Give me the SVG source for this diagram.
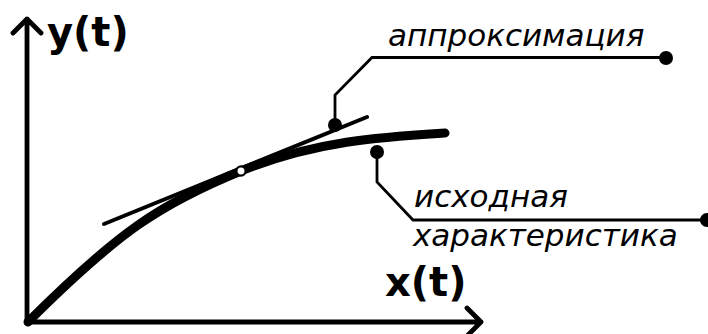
<svg xmlns="http://www.w3.org/2000/svg" width="708" height="334" viewBox="0 0 708 334">
<style>
.ax{fill:none;stroke:#000;stroke-width:4.8;stroke-linecap:round;stroke-linejoin:round}
.lead{fill:none;stroke:#000;stroke-width:2.8;stroke-linejoin:miter}
.dot{fill:#000}
.lbl{font-family:"DejaVu Sans",Verdana,sans-serif;font-style:italic;font-size:31px;fill:#000}
.axl{font-family:"DejaVu Sans",Verdana,sans-serif;font-weight:bold;font-size:40px;fill:#000}
</style>
<rect width="708" height="334" fill="#fff"/>
<g id="axes">
  <path class="ax" d="M27,322 V19 M13,33 L27,19 L41,33"/>
  <path class="ax" d="M27,322 H481 M467,308 L481,322 L467,336"/>
  <text class="axl" x="47" y="46">y(t)</text>
  <text class="axl" x="385" y="296">x(t)</text>
</g>
<g id="curve">
  <path d="M28,322 C118,232 161,203.5 241,171 C316,140.5 385,136.75 445,133" fill="none" stroke="#000" stroke-width="9" stroke-linecap="round"/>
</g>
<g id="tangent">
  <line x1="104" y1="224" x2="367" y2="117" stroke="#000" stroke-width="4" stroke-linecap="round"/>
  <circle cx="241" cy="171" r="4.6" fill="#fff" stroke="#000" stroke-width="2.2"/>
</g>
<g id="connectors">
  <path class="lead" d="M335,125 V95 L372,57.5 H666"/>
  <path class="lead" d="M377,152 V182 L413,220 H707"/>
  <circle class="dot" cx="335" cy="125" r="7"/>
  <circle class="dot" cx="666" cy="58" r="7"/>
  <circle class="dot" cx="377" cy="152" r="7"/>
  <circle class="dot" cx="707" cy="220" r="7"/>
</g>
<g id="label-approx">
  <text class="lbl" x="388" y="46">аппроксимация</text>
</g>
<g id="label-source">
  <text class="lbl" x="414" y="207">исходная</text>
  <text class="lbl" x="413" y="246">характеристика</text>
</g>
</svg>
